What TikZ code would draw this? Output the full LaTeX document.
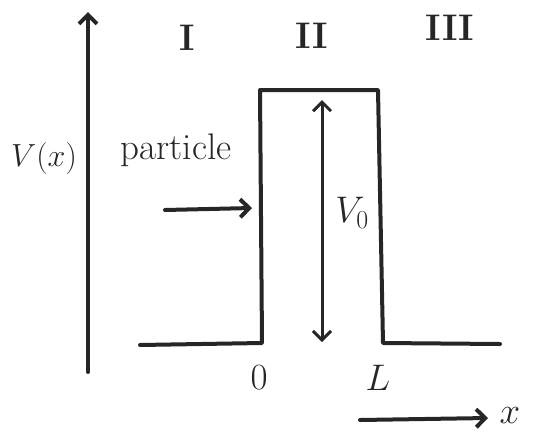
\RequirePackage{fix-cm}
\documentclass[tikz,border=0pt]{standalone}
\usepackage{tikz}
\usetikzlibrary{positioning, arrows.meta}

\begin{document}
\begin{tikzpicture}[x=1pt, y=-1pt, >={Straight Barb[length=9pt, width=18pt]}, line width=4pt, line cap=round, line join=round,
    ink/.style={draw=gray!30!black},
    lbl/.style={font=\fontsize{37}{40}\selectfont, inner sep=0pt, text=gray!30!black}]
  \useasboundingbox (0,0) rectangle (538,437);

  % Potential axis
  \draw[->, ink] (88,372) -- (88,12);
  \node[lbl, font=\fontsize{32}{36}\selectfont] (Vx) at (44,158) {$V(x)$};

  % Region labels
  \node[lbl] (R1) at (187,38) {\textbf{I}};
  \node[lbl] (R2) at (312,36) {\textbf{II}};
  \node[lbl] (R3) at (450,28) {\textbf{III}};

  % Barrier corners
  \coordinate (A) at (140,345);
  \coordinate (B) at (262,343);
  \coordinate (C) at (260,90);
  \coordinate (D) at (378,90);
  \coordinate (E) at (383,343);
  \coordinate (F) at (500,344);

  % Potential barrier
  \draw[ink] (A) -- (B) -- (C) -- (D) -- (E) -- (F);

  % Barrier height
  \draw[<->, ink, line width=3pt] (322,100) -- (322,342);
  \node[lbl] (V0) at (352,213) {$V_0$};

  % Incoming particle
  \node[lbl] (part) at (176,150) {particle};
  \coordinate (p1) at (165,210);
  \coordinate (p2) at (252,208);
  \draw[->, ink] (p1) -- (p2);

  % Positions of the walls
  \node[lbl] (zero) at (259,378) {$0$};
  \node[lbl] (Lw) at (378,378) {$L$};

  % x direction
  \coordinate (x1) at (360,420);
  \coordinate (x2) at (488,418);
  \draw[->, ink] (x1) -- (x2);
  \node[lbl] (xl) at (510,416) {$x$};
\end{tikzpicture}
\end{document}
